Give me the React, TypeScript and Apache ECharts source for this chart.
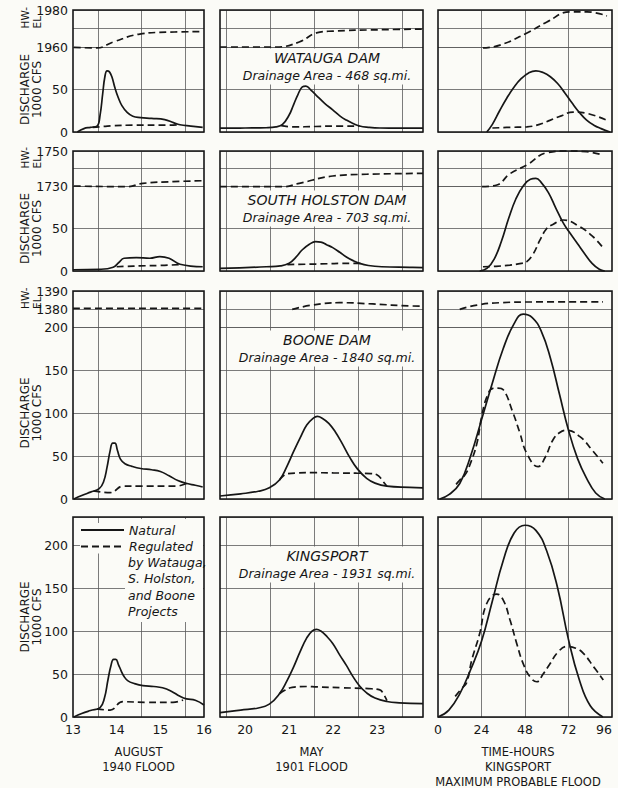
import React, { useEffect, useRef } from 'react';
import * as echarts from 'echarts';

type Pt = [number, number];

// ---------- tick labels / gridline positions ----------
const augustTicks = [13, 14, 15, 16];
const mayTicks = [20, 21, 22, 23];
const hourTicks = [0, 24, 48, 72, 96];
const augustGridDays = [13.57, 14.57, 15.57];
const mayGridDays = [19.57, 20.57, 21.57, 22.57, 23.57];
const hourGrid = [24, 48, 72];
const wataugaHWTicks = [1960, 1980];
const holstonHWTicks = [1730, 1750];
const booneHWTicks = [1380, 1390];
const smallDischargeTicks = [0, 50];
const largeDischargeTicks = [0, 50, 100, 150, 200];

const colNames = ['AUGUST\n1940 FLOOD', 'MAY\n1901 FLOOD', 'TIME-HOURS\nKINGSPORT\nMAXIMUM PROBABLE FLOOD'];
const damNames = ['WATAUGA DAM', 'SOUTH HOLSTON DAM', 'BOONE DAM', 'KINGSPORT'];
const drainageAreas = [468, 703, 1840, 1931];

// ---------- Watauga ----------
const wataugaAugNatural: Pt[] = [[13.1, 0], [13.25, 4], [13.4, 5.5], [13.55, 7], [13.62, 20], [13.68, 45], [13.73, 65], [13.78, 72], [13.83, 71], [13.89, 65], [13.96, 52], [14.04, 40], [14.12, 31], [14.24, 23], [14.37, 18.5], [14.55, 17], [14.8, 16], [15.1, 14.5], [15.3, 11], [15.45, 8.5], [15.7, 7], [15.97, 5.5]];
const wataugaAugRegulated: Pt[] = [[13.45, 5.5], [13.7, 6.5], [13.92, 7.5], [14.37, 8], [15.15, 8], [15.45, 8.5]];
const wataugaAugHW: Pt[] = [[13.02, 1959.8], [13.55, 1959.5], [13.92, 1962.7], [14.53, 1967], [15.15, 1968], [15.97, 1968.3]];

const wataugaMayNatural: Pt[] = [[19.43, 4.5], [20.0, 4.7], [20.48, 5], [20.7, 6], [20.85, 9], [21.0, 20], [21.1, 32], [21.2, 44], [21.3, 53], [21.38, 54], [21.5, 49], [21.61, 43.5], [21.8, 34], [21.99, 26], [22.15, 19], [22.3, 14], [22.45, 10], [22.6, 7], [22.8, 5.5], [23.06, 4.7], [24.04, 4.5]];
const wataugaMayRegulated: Pt[] = [[20.82, 7.5], [21.1, 6], [21.6, 6.5], [22.0, 7], [22.6, 7]];
const wataugaMayHW: Pt[] = [[19.43, 1960], [20.7, 1960], [21.23, 1962.7], [21.62, 1967.6], [21.99, 1968.6], [23.0, 1969.3], [24.04, 1969.7]];

const wataugaMaxNatural: Pt[] = [[26.9, 0], [30, 9], [34, 25], [38, 40], [42, 53], [46, 63], [50, 69.5], [54, 72], [58, 70], [62, 65], [66, 57], [70, 46], [74, 34], [78, 23], [82, 14], [86, 8], [90, 4], [94.9, 0]];
const wataugaMaxRegulated: Pt[] = [[30, 4.7], [40, 5.5], [49, 6], [56, 9], [62, 14], [68, 19], [74.5, 23.5], [82, 22], [93, 14]];
const wataugaMaxHW: Pt[] = [[24.8, 1959.5], [34.2, 1961], [49.1, 1967.6], [60.1, 1973.5], [72.8, 1979], [82.2, 1979], [93.2, 1976.8]];

// ---------- South Holston ----------
const holstonAugNatural: Pt[] = [[13.0, 1.5], [13.62, 2], [13.92, 4.5], [14.05, 10], [14.17, 15], [14.45, 15.7], [14.76, 15], [14.99, 17], [15.2, 15], [15.45, 8], [15.97, 5]];
const holstonAugRegulated: Pt[] = [[14.0, 5], [14.24, 5.5], [14.53, 6], [15.0, 6.5], [15.45, 7.5]];
const holstonAugHW: Pt[] = [[13.02, 1730], [14.24, 1729.6], [14.6, 1731.5], [15.29, 1732.5], [15.97, 1733]];

const holstonMayNatural: Pt[] = [[19.43, 3], [20.0, 4], [20.48, 5], [20.8, 6], [21.0, 9], [21.15, 16], [21.3, 25], [21.46, 31.5], [21.6, 34.5], [21.72, 34], [21.85, 31], [21.99, 27.5], [22.15, 22], [22.3, 16.5], [22.44, 12.5], [22.6, 9], [22.8, 6.5], [23.1, 5], [23.74, 4.3], [24.04, 4]];
const holstonMayRegulated: Pt[] = [[20.96, 7.5], [21.6, 8.2], [22.44, 9], [22.62, 9]];
const holstonMayHW: Pt[] = [[19.43, 1729.6], [20.85, 1729.6], [21.23, 1731.5], [21.99, 1735.7], [22.76, 1736.7], [24.04, 1737.2]];

const holstonMaxNatural: Pt[] = [[23, 0], [27, 3], [31, 14], [35, 35], [39, 62], [43, 85], [47, 100], [51, 108], [54, 109], [57, 104], [61, 92], [65, 74], [69, 57], [73, 44], [77, 32], [81, 20], [85, 9], [89, 2], [92, 0]];
const holstonMaxRegulated: Pt[] = [[24.8, 5], [32, 5.5], [39.7, 7], [46, 9], [49, 11], [52.5, 20], [56.3, 36.5], [60, 50], [63.6, 55], [69.1, 60], [78.3, 52], [85.7, 40], [91.2, 27]];
const holstonMaxHW: Pt[] = [[24.3, 1729.6], [32.5, 1730.6], [39.7, 1737], [49, 1742], [60, 1749], [71, 1750], [82, 1749.6], [91, 1747.7]];

// ---------- Boone ----------
const booneAugNatural: Pt[] = [[13.02, 0], [13.2, 4], [13.4, 8], [13.6, 12], [13.7, 20], [13.78, 37], [13.85, 56], [13.91, 65], [13.96, 65], [14.02, 56], [14.09, 46], [14.19, 41], [14.35, 38], [14.55, 35.5], [14.8, 34], [15.0, 32], [15.2, 27], [15.4, 21.5], [15.61, 18], [15.8, 16], [15.97, 14]];
const booneAugRegulated: Pt[] = [[13.47, 9.5], [13.85, 7.4], [14.15, 15], [14.5, 15], [15.37, 15], [15.6, 18]];
const booneAugHW: Pt[] = [[13.0, 1380.3], [14.5, 1380.3], [16.0, 1380.3]];

const booneMayNatural: Pt[] = [[19.43, 3.5], [19.9, 6], [20.3, 9], [20.55, 13], [20.78, 22], [20.95, 38], [21.1, 55], [21.25, 71], [21.4, 86], [21.55, 94], [21.64, 96], [21.75, 94], [21.9, 88], [22.05, 78], [22.2, 65], [22.37, 49], [22.55, 35], [22.76, 24], [22.95, 18.5], [23.22, 15], [23.74, 13.6], [24.04, 13]];
const booneMayRegulated: Pt[] = [[20.78, 22], [20.87, 27], [20.97, 29.5], [21.2, 30.3], [21.53, 30.6], [22.0, 30.3], [22.53, 30], [22.85, 29.5], [23.0, 28], [23.1, 23], [23.17, 18], [23.22, 15]];
const booneMayHW: Pt[] = [[21.07, 1379.8], [21.53, 1382.2], [22.14, 1383.5], [22.9, 1382.8], [23.74, 1381.7], [24.04, 1381.6]];

const booneMaxNatural: Pt[] = [[1, 0], [6, 5], [12, 18], [18, 50], [24, 92], [30, 135], [36, 175], [42, 204], [47, 215], [52, 211], [57, 195], [62, 164], [67, 122], [72, 80], [77, 47], [82, 24], [87, 7], [92, 0]];
const booneMaxRegulated: Pt[] = [[10, 17], [12, 22], [14.9, 28], [18, 42], [21.5, 65], [24, 95], [27, 119], [30.3, 128.7], [33, 129], [36, 127], [41.4, 100], [45, 78], [49, 53], [55.2, 37.6], [59, 48], [63.4, 68.6], [67, 77], [71, 80], [78.3, 72.5], [85, 57], [91, 41.5]];
const booneMaxHW: Pt[] = [[12, 1379.8], [21.5, 1382.2], [34, 1383.5], [52, 1383.9], [91, 1384]];

// ---------- Kingsport ----------
const kingsportAugNatural: Pt[] = [[13.02, 0], [13.2, 4], [13.4, 7.5], [13.62, 11], [13.72, 22], [13.8, 43], [13.87, 60], [13.93, 67], [13.98, 67], [14.04, 61], [14.1, 54], [14.17, 47], [14.26, 42], [14.4, 39], [14.6, 36.5], [14.85, 35.5], [15.05, 34], [15.25, 30], [15.45, 24], [15.6, 21], [15.8, 19.5], [16.0, 14]];
const kingsportAugRegulated: Pt[] = [[13.55, 9.5], [13.85, 8], [14.14, 17.8], [14.69, 17], [15.29, 17], [15.52, 19.8]];
const kingsportMayNatural: Pt[] = [[19.43, 5], [19.9, 8], [20.3, 10.5], [20.55, 15], [20.78, 27], [20.95, 42], [21.1, 58], [21.25, 76], [21.4, 92], [21.52, 100], [21.62, 102], [21.72, 100], [21.85, 94], [21.99, 85.5], [22.15, 72], [22.3, 60], [22.45, 47], [22.6, 36], [22.76, 28], [22.95, 22], [23.22, 18], [23.5, 16.5], [24.04, 15.5]];
const kingsportMayRegulated: Pt[] = [[20.78, 27], [20.9, 31], [21.07, 34.5], [21.4, 35.5], [21.62, 35], [22.2, 34], [22.8, 33], [23.06, 31.5], [23.15, 26], [23.22, 19]];
const kingsportMaxNatural: Pt[] = [[0, 0], [6, 8], [12, 27], [18, 55], [24, 88], [30, 135], [36, 182], [42, 214], [48, 223], [54, 217], [60, 193], [66, 150], [72, 90], [78, 43], [84, 13], [91, 0]];
const kingsportMaxRegulated: Pt[] = [[9.5, 24], [13, 33], [15.8, 40], [18.6, 66], [23, 97], [26.9, 132], [32.4, 143], [36, 136], [39.7, 113], [43.5, 85], [47, 62], [51, 46], [54.5, 41], [58, 50], [61.8, 62], [66, 75], [71, 82], [76, 80], [80.2, 74], [86, 58], [91.2, 43]];

// ---------- styling / layout ----------
const BG = '#fbfbf7';
const INK = '#161616';
const GRIDC = '#5a5a5a';
const FONT = 'DejaVu Sans';

const COLS = [
  { left: 73, width: 131 },
  { left: 220, width: 203 },
  { left: 438, width: 174 },
];
const ROWS: { hwTop?: number; hwH?: number; dTop: number; dH: number }[] = [
  { hwTop: 10, hwH: 37, dTop: 47, dH: 85 },
  { hwTop: 151, hwH: 35, dTop: 186, dH: 85 },
  { hwTop: 291, hwH: 36, dTop: 327, dH: 172 },
  { dTop: 517, dH: 200 },
];
const titleTops = [48.5, 190.5, 330.5, 546.5];

function buildOption() {
  const colDefs = [
    { ticks: augustTicks, lines: augustGridDays, range: [13, 16], name: colNames[0], namePad: [0, 0, 0, 0] },
    { ticks: mayTicks, lines: mayGridDays, range: [19.43, 24.04], name: colNames[1], namePad: [0, 20, 0, 0] },
    { ticks: hourTicks, lines: hourGrid, range: [0, 96], name: colNames[2], namePad: [0, 14, 0, 0] },
  ];
  const hwRanges = [[1960, 1980], [1730, 1750], [1370, 1390]];
  const hwLabels = [wataugaHWTicks, holstonHWTicks, booneHWTicks];
  const dMax = [100, 100, 200, 232.6];
  const dLabels = [smallDischargeTicks, smallDischargeTicks, largeDischargeTicks, largeDischargeTicks];

  const panels = [
    [
      { n: wataugaAugNatural, r: wataugaAugRegulated, h: wataugaAugHW },
      { n: wataugaMayNatural, r: wataugaMayRegulated, h: wataugaMayHW },
      { n: wataugaMaxNatural, r: wataugaMaxRegulated, h: wataugaMaxHW },
    ],
    [
      { n: holstonAugNatural, r: holstonAugRegulated, h: holstonAugHW },
      { n: holstonMayNatural, r: holstonMayRegulated, h: holstonMayHW },
      { n: holstonMaxNatural, r: holstonMaxRegulated, h: holstonMaxHW },
    ],
    [
      { n: booneAugNatural, r: booneAugRegulated, h: booneAugHW },
      { n: booneMayNatural, r: booneMayRegulated, h: booneMayHW },
      { n: booneMaxNatural, r: booneMaxRegulated, h: booneMaxHW },
    ],
    [
      { n: kingsportAugNatural, r: kingsportAugRegulated, h: null as Pt[] | null },
      { n: kingsportMayNatural, r: kingsportMayRegulated, h: null as Pt[] | null },
      { n: kingsportMaxNatural, r: kingsportMaxRegulated, h: null as Pt[] | null },
    ],
  ];

  const grid: any[] = [];
  const xAxis: any[] = [];
  const yAxis: any[] = [];
  const series: any[] = [];

  const splitLine = { show: true, lineStyle: { color: GRIDC, width: 0.8 } };

  const makeX = (ci: number, gi: number, bottom: boolean) => {
    const d = colDefs[ci];
    return {
      type: 'value', gridIndex: gi, min: d.range[0], max: d.range[1],
      axisLine: { show: false },
      axisTick: { show: false, customValues: d.lines },
      splitLine,
      axisLabel: bottom
        ? { show: true, customValues: d.ticks, margin: 6, color: INK, fontSize: 12.5, fontFamily: FONT, alignMaxLabel: ci === 2 ? 'right' : undefined }
        : { show: false },
      name: bottom ? d.name : '',
      nameLocation: 'middle', nameGap: 27, nameMoveOverlap: false,
      nameTextStyle: { color: INK, fontSize: 11.5, lineHeight: 15, fontFamily: FONT, padding: d.namePad },
    };
  };

  const makeY = (gi: number, min: number, max: number, interval: number, labels: number[], show: boolean, name: string, align: string, nameSize: number) => ({
    type: 'value', gridIndex: gi, min, max, interval,
    axisLine: { show: false }, axisTick: { show: false },
    splitLine,
    axisLabel: show
      ? {
          show: true, margin: 5, color: INK, fontSize: 12.5, fontFamily: FONT,
          formatter: (v: number) => (labels.indexOf(Math.round(v)) >= 0 && Math.abs(v - Math.round(v)) < 1e-6 ? String(v) : ''),
        }
      : { show: false },
    name: show ? name : '',
    nameLocation: 'middle', nameRotate: 90, nameGap: 30, nameMoveOverlap: false,
    nameTextStyle: { color: INK, fontSize: nameSize, lineHeight: 12, fontFamily: FONT, align },
  });

  const line = (name: string, data: Pt[], gi: number, dashed: boolean) => ({
    type: 'line', name, data, xAxisIndex: gi, yAxisIndex: gi,
    smooth: 0.45, symbol: 'none', showSymbol: false, clip: false, silent: true,
    lineStyle: { color: INK, width: 1.7, type: dashed ? [7, 4] : 'solid' },
    itemStyle: { color: INK },
    z: 3,
  });

  for (let ri = 0; ri < 4; ri++) {
    for (let ci = 0; ci < 3; ci++) {
      const R = ROWS[ri];
      const C = COLS[ci];
      const p = panels[ri][ci];
      const bottom = ri === 3;

      // frame
      const fTop = R.hwTop != null ? R.hwTop : R.dTop;
      const fi = grid.length;
      grid.push({
        left: C.left, top: fTop, width: C.width, height: R.dTop + R.dH - fTop,
        show: true, borderColor: INK, borderWidth: 1.6, backgroundColor: 'transparent', z: 1,
        outerBoundsMode: 'none', containLabel: false,
      });
      xAxis.push({ type: 'value', gridIndex: fi, show: false, min: 0, max: 1 });
      yAxis.push({ type: 'value', gridIndex: fi, show: false, min: 0, max: 1 });

      // discharge grid
      const di = grid.length;
      grid.push({ left: C.left, top: R.dTop, width: C.width, height: R.dH, show: false, outerBoundsMode: 'none', containLabel: false });
      xAxis.push(makeX(ci, di, bottom));
      yAxis.push(makeY(di, 0, dMax[ri], 50, dLabels[ri], ci === 0, 'DISCHARGE\n1000 CFS', 'center', 12));
      series.push(line('Natural', p.n, di, false));
      series.push(line('Regulated', p.r, di, true));

      // headwater elevation grid
      if (R.hwTop != null && p.h) {
        const hi = grid.length;
        grid.push({ left: C.left, top: R.hwTop, width: C.width, height: R.hwH, show: false, outerBoundsMode: 'none', containLabel: false });
        xAxis.push(makeX(ci, hi, false));
        yAxis.push(makeY(hi, hwRanges[ri][0], hwRanges[ri][1], 10, hwLabels[ri], ci === 0, 'HW-\nEL', 'left', 10.5));
        series.push(line('Headwater elevation', p.h, hi, true));
      }
    }
  }

  const title = damNames.map((n, i) => ({
    text: n,
    subtext: `Drainage Area - ${drainageAreas[i]} sq.mi.`,
    left: 322, top: titleTops[i], textAlign: 'center', itemGap: 3, padding: [2, 5],
    backgroundColor: BG,
    textStyle: { color: INK, fontSize: 14, fontStyle: 'italic', fontWeight: 'normal', fontFamily: FONT, lineHeight: 15 },
    subtextStyle: { color: INK, fontSize: 12.5, fontStyle: 'italic', fontFamily: FONT, lineHeight: 14 },
  }));

  return {
    animation: false,
    backgroundColor: BG,
    textStyle: { fontFamily: FONT },
    title,
    grid,
    xAxis,
    yAxis,
    series,
    legend: {
      data: ['Natural', 'Regulated'],
      orient: 'vertical', left: 80, top: 523, padding: 0, itemGap: 2.5,
      itemWidth: 43, itemHeight: 14, selectedMode: false,
      backgroundColor: BG,
      itemStyle: { opacity: 0 },
      textStyle: { color: INK, fontSize: 12.5, fontStyle: 'italic', fontFamily: FONT, lineHeight: 14 },
    },
    graphic: [
      { type: 'rect', z: 1, silent: true, shape: { x: 125, y: 519, width: 78, height: 103 }, style: { fill: BG } },
      {
        type: 'text', z: 5, x: 128, y: 554, silent: true,
        style: {
          text: 'by Watauga,\nS. Holston,\nand Boone\nProjects',
          fill: INK, fontSize: 12.5, fontStyle: 'italic', fontFamily: FONT, lineHeight: 16.5, verticalAlign: 'top',
        },
      },
    ],
  };
}

export default function App() {
  const ref = useRef<HTMLDivElement>(null);
  useEffect(() => {
    document.body.style.margin = '0';
    document.body.style.background = BG;
    const chart = echarts.init(ref.current as HTMLDivElement, null, { renderer: 'svg' });
    chart.setOption(buildOption() as any);
    return () => chart.dispose();
  }, []);
  return <div ref={ref} style={{ position: 'absolute', left: 0, top: 0, width: 618, height: 788, background: BG }} />;
}
